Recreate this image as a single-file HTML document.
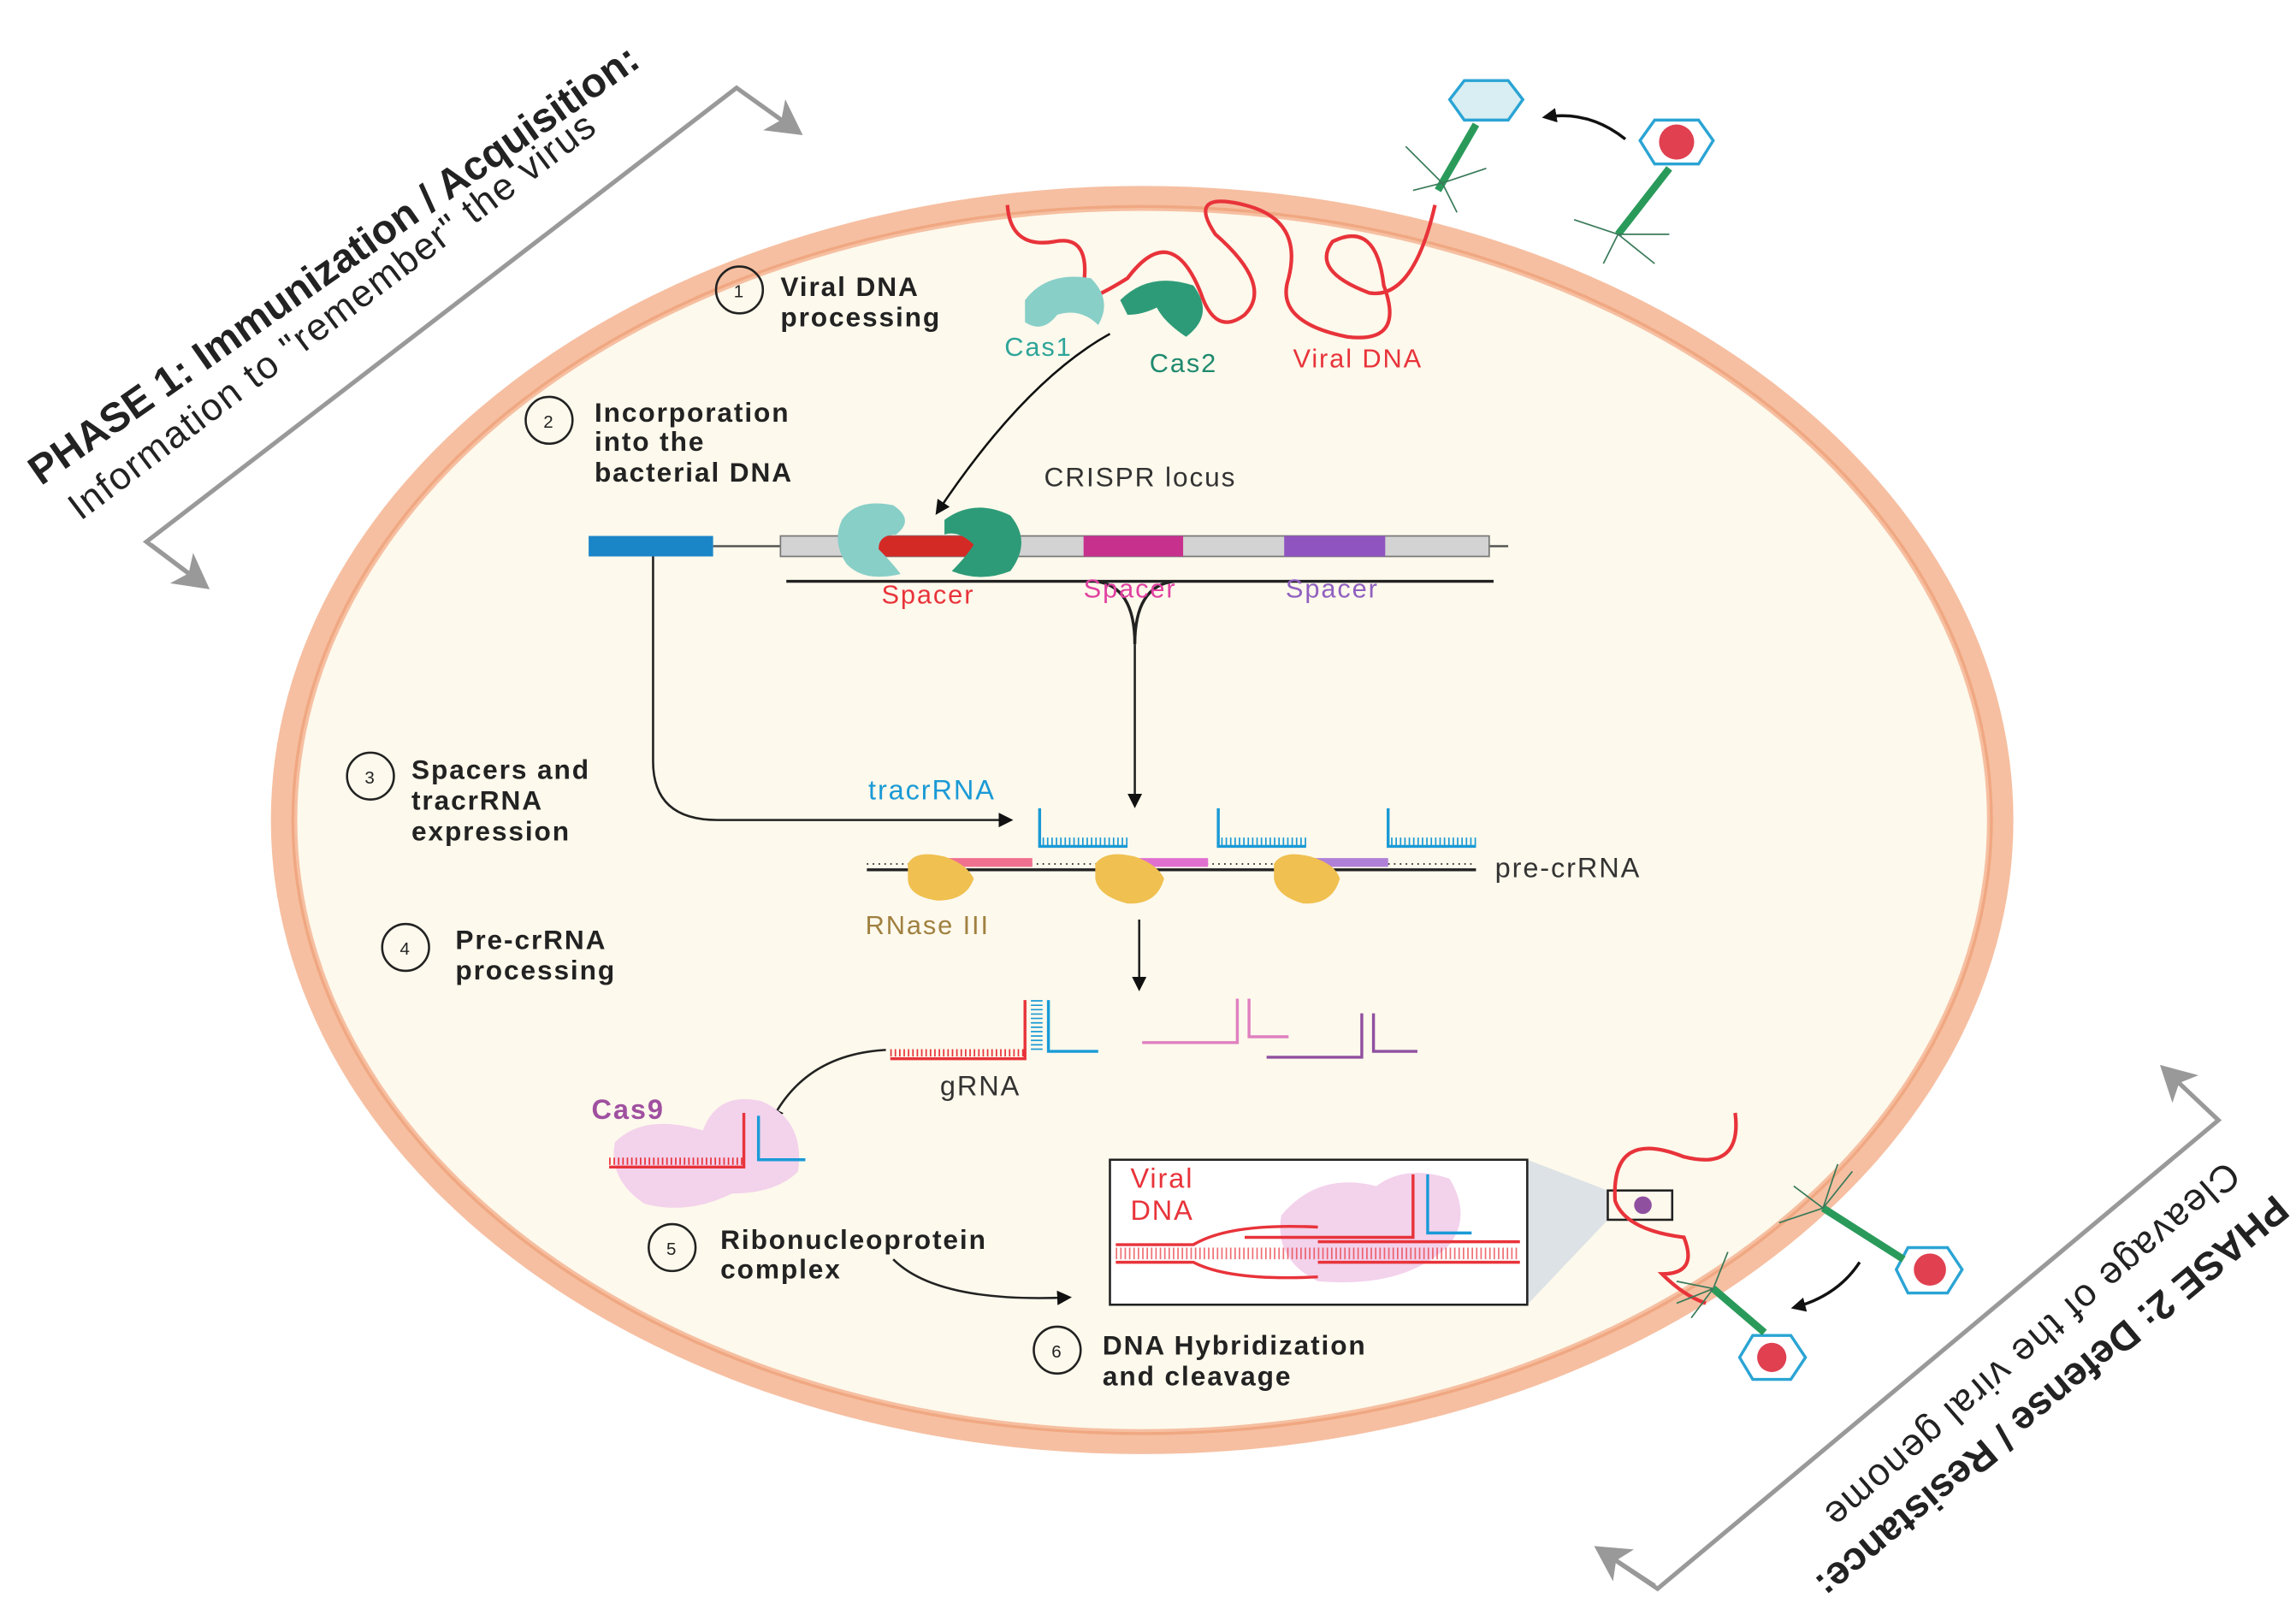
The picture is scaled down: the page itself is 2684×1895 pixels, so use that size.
<!DOCTYPE html>
<html><head><meta charset="utf-8"><style>
html,body{margin:0;padding:0;background:#fff;}
svg{display:block;}
text{font-family:"Liberation Sans",Arial,sans-serif;letter-spacing:1.1px;}
.b{font-weight:bold;font-size:18.5px;fill:#222;}
</style></head><body>
<svg width="2684" height="1895" viewBox="0 0 1568 1107" preserveAspectRatio="none" xmlns="http://www.w3.org/2000/svg">
<defs>
<marker id="ah" markerWidth="10" markerHeight="10" refX="8" refY="5" orient="auto" markerUnits="userSpaceOnUse"><path d="M0,0 L10,5 L0,10 z" fill="#111"/></marker>
<marker id="gh" markerWidth="26" markerHeight="26" refX="20" refY="13" orient="auto" markerUnits="userSpaceOnUse"><path d="M0,0 L24,13 L0,26 L6,13 z" fill="#999"/></marker>
</defs>
<rect width="1568" height="1107" fill="#fff"/>
<ellipse cx="780" cy="560" rx="595" ry="433" fill="#f6bfa1"/>
<ellipse cx="780" cy="560" rx="577" ry="416" fill="#fdf9ec"/>
<ellipse cx="780" cy="560" rx="580" ry="419" fill="none" stroke="#f0a882" stroke-width="2"/>

<polyline points="140,400 100,370 503,60 545,90" fill="none" stroke="#999" stroke-width="3" marker-end="url(#gh)"/>
<line x1="103" y1="372" x2="140" y2="400" stroke="#999" stroke-width="3" marker-end="url(#gh)"/>
<text transform="translate(28,332) rotate(-35)" font-size="28" font-weight="bold" fill="#222" style="letter-spacing:0px">PHASE 1: Immunization / Acquisition:</text>
<text transform="translate(55,356) rotate(-37)" font-size="26" fill="#222" style="letter-spacing:1px">Information to "remember" the virus</text>

<polyline points="1092,1058 1132,1085 1515,765 1478,730" fill="none" stroke="#999" stroke-width="3" marker-end="url(#gh)"/>
<line x1="1130" y1="1083" x2="1092" y2="1058" stroke="#999" stroke-width="3" marker-end="url(#gh)"/>
<text transform="translate(1553,815) rotate(140)" font-size="27" font-weight="bold" fill="#222" style="letter-spacing:0px">PHASE 2: Defense / Resistance:</text>
<text transform="translate(1520,792) rotate(139)" font-size="26" fill="#222" style="letter-spacing:1px">Cleavage of the viral genome</text>

<polygon points="1000,55 1030,55 1040,68 1030,82 1000,82 990,68" fill="#d8eef2" stroke="#2aa4d4" stroke-width="2"/>
<line x1="1008" y1="85" x2="982" y2="130" stroke="#2a9a5a" stroke-width="5"/>
<path d="M985,125 l-25,-25 M985,125 l-20,5 M985,125 l10,20 M985,125 l30,-10" stroke="#3a7a5a" stroke-width="1"/>
<polygon points="1130,82 1160,82 1170,96 1160,112 1130,112 1120,96" fill="#fff" stroke="#2aa4d4" stroke-width="2"/>
<circle cx="1145" cy="97" r="12" fill="#e04050"/>
<line x1="1140" y1="115" x2="1105" y2="160" stroke="#2a9a5a" stroke-width="5"/>
<path d="M1105,160 l-30,-10 M1105,160 l-10,20 M1105,160 l25,20 M1105,160 l35,0" stroke="#3a7a5a" stroke-width="1"/>
<path d="M1110,95 Q1085,75 1055,80" fill="none" stroke="#111" stroke-width="2" marker-end="url(#ah)"/>

<path d="M688,140 Q690,170 720,165 Q745,160 740,195 Q730,215 770,190 Q800,150 820,200 Q830,230 850,215 Q870,195 830,160 Q810,130 850,140 Q890,150 880,190 Q870,220 920,230 Q960,235 945,195 Q940,150 910,165 Q895,185 935,200 Q965,205 980,140" fill="none" stroke="#e8333a" stroke-width="2.5"/>
<path d="M758,228 Q700,260 640,350" fill="none" stroke="#111" stroke-width="1.5" marker-end="url(#ah)"/>
<path d="M700,205 Q715,185 745,190 Q760,205 750,222 Q738,210 722,215 Q712,228 700,220 z" fill="#88cfc8"/>
<path d="M765,205 Q785,185 815,195 Q830,215 810,230 Q795,220 790,210 Q780,215 770,215 z" fill="#2e9b78"/>
<text x="686" y="243" font-size="18" fill="#2fa59a">Cas1</text>
<text x="785" y="254" font-size="18" fill="#1e8a6e">Cas2</text>
<text x="883" y="251" font-size="18" fill="#e8333a">Viral DNA</text>

<g fill="none" stroke="#222" stroke-width="1.5">
<circle cx="505" cy="198" r="16"/><circle cx="375" cy="287" r="16"/><circle cx="253" cy="530" r="16"/>
<circle cx="277" cy="647" r="16"/><circle cx="459" cy="852" r="16"/><circle cx="722" cy="922" r="16"/>
</g>
<g font-size="12" fill="#222" text-anchor="middle" style="letter-spacing:0">
<text x="505" y="203">1</text><text x="375" y="292">2</text><text x="253" y="535">3</text>
<text x="277" y="652">4</text><text x="459" y="857">5</text><text x="722" y="927">6</text>
</g>
<text class="b" x="533" y="202">Viral DNA</text><text class="b" x="533" y="223">processing</text>
<text class="b" x="406" y="288">Incorporation</text><text class="b" x="406" y="308">into the</text><text class="b" x="406" y="329">bacterial DNA</text>
<text class="b" x="281" y="532">Spacers and</text><text class="b" x="281" y="553">tracrRNA</text><text class="b" x="281" y="574">expression</text>
<text class="b" x="311" y="648">Pre-crRNA</text><text class="b" x="311" y="669">processing</text>
<text class="b" x="492" y="853">Ribonucleoprotein</text><text class="b" x="492" y="873">complex</text>
<text class="b" x="753" y="925">DNA Hybridization</text><text class="b" x="753" y="946">and cleavage</text>

<text x="713" y="332" font-size="18.5" fill="#333">CRISPR locus</text>
<line x1="487" y1="373" x2="1030" y2="373" stroke="#555" stroke-width="1.5"/>
<rect x="402" y="366" width="85" height="14" fill="#1a86c8"/>
<rect x="533" y="366" width="484" height="14" fill="#d3d3d3" stroke="#777" stroke-width="1"/>
<rect x="600" y="366" width="68" height="14" fill="#d42a26"/>
<rect x="740" y="366" width="68" height="14" fill="#c8308e"/>
<rect x="877" y="366" width="69" height="14" fill="#9054c0"/>
<path d="M575,355 Q585,340 610,345 Q625,355 612,365 Q600,365 600,375 Q610,385 615,392 Q590,398 578,385 Q568,370 575,355 z" fill="#88cfc8"/>
<path d="M645,355 Q665,340 690,352 Q705,370 690,390 Q670,398 650,390 Q660,380 665,372 Q655,362 645,365 z" fill="#2e9b78"/>
<line x1="537" y1="397" x2="1020" y2="397" stroke="#222" stroke-width="2"/>
<path d="M748,397 Q775,400 775,440 Q775,400 802,397" fill="none" stroke="#222" stroke-width="2"/>
<line x1="775" y1="440" x2="775" y2="550" stroke="#222" stroke-width="1.5" marker-end="url(#ah)"/>
<text x="602" y="412" font-size="18" fill="#e8333a">Spacer</text>
<text x="740" y="408" font-size="18" fill="#e040a0">Spacer</text>
<text x="878" y="408" font-size="18" fill="#9060c0">Spacer</text>
<path d="M446,380 L446,520 Q446,560 490,560 L690,560" fill="none" stroke="#222" stroke-width="1.5" marker-end="url(#ah)"/>
<text x="593" y="546" font-size="19" fill="#1a9ad6">tracrRNA</text>

<line x1="592" y1="594" x2="1008" y2="594" stroke="#222" stroke-width="2"/>
<line x1="592" y1="590" x2="1008" y2="590" stroke="#222" stroke-width="1" stroke-dasharray="1,3"/>
<rect x="643" y="586" width="62" height="6" fill="#f07090"/>
<rect x="770" y="586" width="55" height="6" fill="#e070d0"/>
<rect x="893" y="586" width="55" height="6" fill="#b080d8"/>
<g fill="none" stroke="#1a9ad6" stroke-width="2">
<path d="M710,552 L710,578 L770,578"/><path d="M832,552 L832,578 L892,578"/><path d="M948,552 L948,578 L1008,578"/>
</g>
<g stroke="#1a9ad6" stroke-width="6" stroke-dasharray="1,2">
<line x1="712" y1="575" x2="770" y2="575"/><line x1="834" y1="575" x2="892" y2="575"/><line x1="950" y1="575" x2="1008" y2="575"/>
</g>
<g fill="#f0c050">
<path d="M620,590 Q625,580 645,585 Q660,590 665,600 Q660,615 640,615 Q620,612 620,600 z"/>
<path d="M748,590 Q755,580 775,585 Q790,590 795,600 Q790,618 770,617 Q750,612 748,600 z"/>
<path d="M870,590 Q876,580 895,585 Q912,590 915,600 Q910,618 890,617 Q872,612 870,600 z"/>
</g>
<text x="591" y="638" font-size="18" fill="#a08040">RNase III</text>
<text x="1021" y="599" font-size="19" fill="#333">pre-crRNA</text>
<line x1="778" y1="628" x2="778" y2="675" stroke="#222" stroke-width="1.5" marker-end="url(#ah)"/>

<path d="M608,723 L700,723 L700,683" fill="none" stroke="#e8333a" stroke-width="2"/>
<path d="M716,683 L716,718 L750,718" fill="none" stroke="#1a9ad6" stroke-width="2"/>
<line x1="608" y1="719" x2="700" y2="719" stroke="#e8333a" stroke-width="5" stroke-dasharray="1,2"/>
<line x1="708" y1="683" x2="708" y2="718" stroke="#1a9ad6" stroke-width="8" stroke-dasharray="1,2"/>
<text x="642" y="748" font-size="19" fill="#333">gRNA</text>
<path d="M780,712 L845,712 L845,682 M853,682 L853,708 L880,708" fill="none" stroke="#e080c0" stroke-width="2"/>
<path d="M865,722 L930,722 L930,692 M938,692 L938,718 L968,718" fill="none" stroke="#9050a0" stroke-width="2"/>
<path d="M605,717 Q550,720 527,765" fill="none" stroke="#222" stroke-width="1.5" marker-end="url(#ah)"/>

<path d="M420,780 Q440,760 480,772 Q490,745 520,752 Q550,765 545,800 Q530,815 500,815 Q470,830 440,822 Q415,805 420,780 z" fill="#f3d2ec"/>
<path d="M416,797 L508,797 L508,760" fill="none" stroke="#e8333a" stroke-width="2"/>
<line x1="416" y1="793" x2="508" y2="793" stroke="#e8333a" stroke-width="5" stroke-dasharray="1,2"/>
<path d="M518,762 L518,792 L550,792" fill="none" stroke="#1a9ad6" stroke-width="2"/>
<text x="404" y="764" font-size="19" font-weight="bold" fill="#a050a0">Cas9</text>
<path d="M610,860 Q640,890 730,886" fill="none" stroke="#222" stroke-width="1.5" marker-end="url(#ah)"/>

<polygon points="1043,792 1098,813 1098,833 1043,891" fill="#dde2e6"/>
<rect x="758" y="792" width="285" height="99" fill="#fff" stroke="#222" stroke-width="1.5"/>
<path d="M875,830 Q900,800 940,810 Q960,795 990,805 Q1005,830 990,850 Q960,880 900,875 Q870,860 875,830 z" fill="#f3d2ec"/>
<g fill="none" stroke="#e8333a" stroke-width="2">
<path d="M762,850 L815,850 Q840,835 900,838 M762,862 L815,862 Q840,875 900,872"/>
<path d="M900,848 L1038,848 M900,862 L1038,862"/>
<path d="M850,845 L965,845 L965,802"/>
</g>
<line x1="762" y1="856" x2="1038" y2="856" stroke="#e8333a" stroke-width="8" stroke-dasharray="1,2" opacity="0.7"/>
<path d="M975,802 L975,842 L1005,842" fill="none" stroke="#1a9ad6" stroke-width="2"/>
<text x="772" y="811" font-size="19" fill="#e8333a">Viral</text>
<text x="772" y="833" font-size="19" fill="#e8333a">DNA</text>
<rect x="1098" y="813" width="44" height="20" fill="none" stroke="#222" stroke-width="1.5"/>
<circle cx="1122" cy="823" r="6" fill="#9050a0"/>
<path d="M1185,760 Q1190,800 1150,790 Q1100,770 1103,820 Q1110,840 1150,845 Q1160,870 1135,870 Q1150,885 1165,890" fill="none" stroke="#e8333a" stroke-width="2.5"/>

<polygon points="1303,852 1330,852 1340,867 1330,883 1303,883 1295,867" fill="#fff" stroke="#2aa4d4" stroke-width="2"/>
<circle cx="1318" cy="867" r="11" fill="#e04050"/>
<line x1="1300" y1="860" x2="1245" y2="825" stroke="#2a9a5a" stroke-width="5"/>
<path d="M1245,825 l-20,-15 M1245,825 l-30,10 M1245,825 l10,-30 M1245,825 l20,-25" stroke="#3a7a5a" stroke-width="1"/>
<polygon points="1197,912 1223,912 1233,927 1223,942 1197,942 1188,927" fill="#fff" stroke="#2aa4d4" stroke-width="2"/>
<circle cx="1210" cy="927" r="10" fill="#e04050"/>
<line x1="1205" y1="910" x2="1170" y2="880" stroke="#2a9a5a" stroke-width="5"/>
<path d="M1170,880 l-25,-5 M1170,880 l-15,20 M1170,880 l10,-25 M1170,880 l-25,10" stroke="#3a7a5a" stroke-width="1"/>
<path d="M1270,862 Q1255,885 1225,893" fill="none" stroke="#111" stroke-width="2" marker-end="url(#ah)"/>
</svg>
</body></html>
